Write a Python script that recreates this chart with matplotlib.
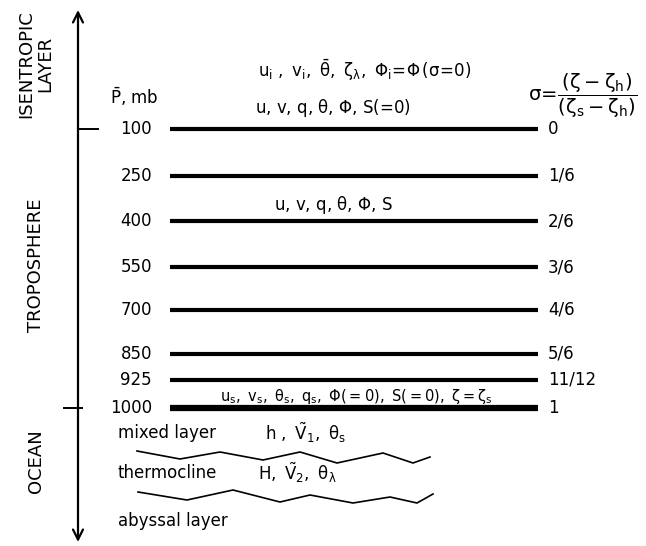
import matplotlib.pyplot as plt

plt.rcParams['mathtext.default'] = 'regular'
plt.rcParams['font.family'] = ['DejaVu Sans']

# pressure levels (mb) and their sigma values, top to bottom
pressure = ['100', '250', '400', '550', '700', '850', '925', '1000']
sigma = ['0', '1/6', '2/6', '3/6', '4/6', '5/6', '11/12', '1']
level_y = [129, 176, 221, 267, 310, 354, 380, 408]
level_lw = [3, 3, 3, 3, 3, 3, 3, 4.5]

# interface wiggles in the ocean
wave1_x = [137, 180, 220, 263, 300, 337, 383, 413, 430]
wave1_y = [451, 459, 452, 460, 452, 463, 453, 463, 457]
wave2_x = [138, 187, 233, 280, 310, 353, 390, 417, 433]
wave2_y = [492, 500, 490, 502, 495, 503, 497, 503, 494]

fig = plt.figure(figsize=(6.46, 5.46), dpi=100)
ax = fig.add_axes([0, 0, 1, 1])
ax.set_xlim(0, 646)
ax.set_ylim(546, 0)
ax.axis('off')

# vertical axis with arrows both ways
ax.annotate('', xy=(78, 10), xytext=(78, 129),
            arrowprops=dict(arrowstyle='->', lw=1.6, color='black',
                            mutation_scale=18, shrinkA=0, shrinkB=0))
ax.annotate('', xy=(78, 542), xytext=(78, 129),
            arrowprops=dict(arrowstyle='->', lw=1.6, color='black',
                            mutation_scale=18, shrinkA=0, shrinkB=0))
ax.plot([78, 98], [129, 129], color='black', lw=1.4)
ax.plot([64, 82], [408, 408], color='black', lw=1.4)

# side labels
ax.text(36, 64, 'ISENTROPIC\nLAYER', rotation=90, ha='center', va='center',
        fontsize=13, linespacing=1.1)
ax.text(36, 265, 'TROPOSPHERE', rotation=90, ha='center', va='center', fontsize=13)
ax.text(36, 461, 'OCEAN', rotation=90, ha='center', va='center', fontsize=13)

# levels
for p, s, y, lw in zip(pressure, sigma, level_y, level_lw):
    ax.plot([170, 538], [y, y], color='black', lw=lw, solid_capstyle='butt')
    ax.text(152, y, p, ha='right', va='center', fontsize=12)
    ax.text(548, y, s, ha='left', va='center', fontsize=12)

ax.text(110, 97, r'$\bar{P}$, mb', ha='left', va='center', fontsize=12)
ax.text(528, 96, r'$\sigma\!=\!\dfrac{(\zeta-\zeta_h)}{(\zeta_s-\zeta_h)}$',
        ha='left', va='center', fontsize=14)

# variables in each layer
ax.text(365, 70, r'$u_i\ ,\ v_i,\ \bar{\theta},\ \zeta_\lambda,\ \Phi_i\!=\!\Phi\,(\sigma\!=\!0)$',
        ha='center', va='center', fontsize=12)
ax.text(333, 108, r'u, v, q, $\theta$, $\Phi$, S(=0)', ha='center', va='center', fontsize=12)
ax.text(333, 205, r'u, v, q, $\theta$, $\Phi$, S', ha='center', va='center', fontsize=12)
ax.text(356, 396, r'$u_s,\ v_s,\ \theta_s,\ q_s,\ \Phi(=0),\ S(=0),\ \zeta=\zeta_s$',
        ha='center', va='center', fontsize=10.5)

# ocean layers
ax.text(118, 433, 'mixed layer', ha='left', va='center', fontsize=12)
ax.text(265, 433, r'$h\ ,\ \tilde{V}_1,\ \theta_s$', ha='left', va='center', fontsize=12)
ax.plot(wave1_x, wave1_y, color='black', lw=1.2)
ax.text(118, 473, 'thermocline', ha='left', va='center', fontsize=12)
ax.text(258, 473, r'$H,\ \tilde{V}_2,\ \theta_\lambda$', ha='left', va='center', fontsize=12)
ax.plot(wave2_x, wave2_y, color='black', lw=1.2)
ax.text(118, 521, 'abyssal layer', ha='left', va='center', fontsize=12)

fig.savefig('out.png', dpi=100)
